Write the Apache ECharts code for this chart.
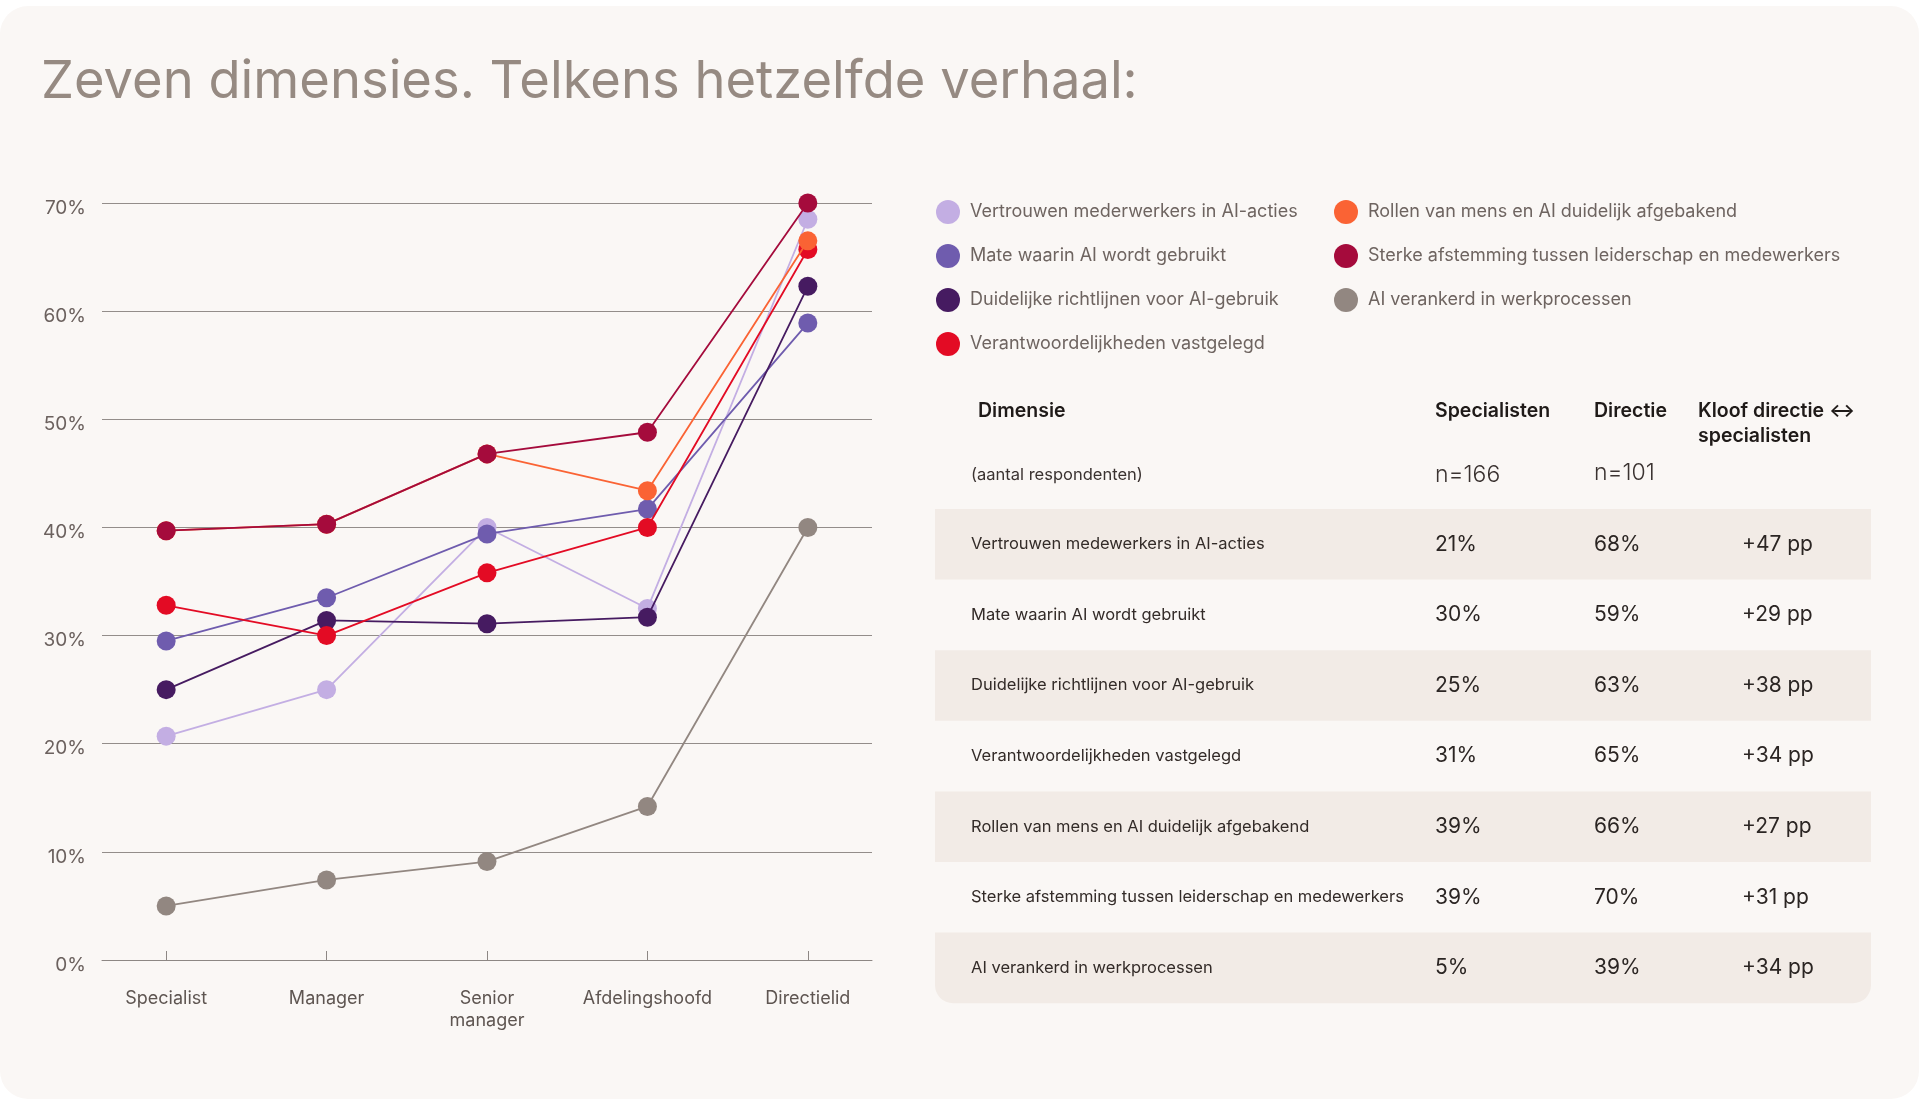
<!DOCTYPE html>
<html>
<head>
<meta charset="utf-8">
<script src="https://cdn.jsdelivr.net/npm/echarts@6/dist/echarts.min.js"></script>
<style>
html,body{margin:0;padding:0;background:#ffffff;}
#main{width:1920px;height:1106px;}
</style>
</head>
<body>
<div id="main"></div>
<script>
// categories on the x axis
var functies = ['Specialist', 'Manager', 'Senior\nmanager', 'Afdelingshoofd', 'Directielid'];
var yTicks = [0, 10, 20, 30, 40, 50, 60, 70];

// series (percentages per function level)
var namen = [
    'Vertrouwen mederwerkers in AI-acties',
    'Mate waarin AI wordt gebruikt',
    'Duidelijke richtlijnen voor AI-gebruik',
    'Verantwoordelijkheden vastgelegd',
    'Rollen van mens en AI duidelijk afgebakend',
    'Sterke afstemming tussen leiderschap en medewerkers',
    'AI verankerd in werkprocessen'
];
var kleuren = ['#c3aee3', '#6f5cae', '#461b61', '#e30b24', '#fa6334', '#a50b3c', '#928781'];
var vertrouwen = [20.7, 25.0, 40.0, 32.5, 68.5];
var mate = [29.5, 33.5, 39.4, 41.7, 58.9];
var richtlijnen = [25.0, 31.4, 31.1, 31.7, 62.3];
var verantwoordelijk = [32.8, 30.0, 35.8, 40.0, 65.7];
var rollen = [39.7, 40.3, 46.8, 43.4, 66.5];
var afstemming = [39.7, 40.3, 46.8, 48.8, 70.0];
var verankerd = [5.0, 7.4, 9.1, 14.2, 40.0];
var reeksen = [vertrouwen, mate, richtlijnen, verantwoordelijk, rollen, afstemming, verankerd];

// table on the right
var tabelKop = ['Dimensie', 'Specialisten', 'Directie', 'Kloof directie \u2194', 'specialisten'];
var respondenten = ['(aantal respondenten)', 'n=166', 'n=101'];
var dimensies = [
    'Vertrouwen medewerkers in AI-acties',
    'Mate waarin AI wordt gebruikt',
    'Duidelijke richtlijnen voor AI-gebruik',
    'Verantwoordelijkheden vastgelegd',
    'Rollen van mens en AI duidelijk afgebakend',
    'Sterke afstemming tussen leiderschap en medewerkers',
    'AI verankerd in werkprocessen'
];
var specialisten = ['21%', '30%', '25%', '31%', '39%', '39%', '5%'];
var directie = ['68%', '59%', '63%', '65%', '66%', '70%', '39%'];
var kloof = ['+47 pp', '+29 pp', '+38 pp', '+34 pp', '+27 pp', '+31 pp', '+34 pp'];

var FONT = 'Inter, "Noto Sans", sans-serif';

var dom = document.getElementById('main');
var myChart = echarts.init(dom);

var series = [];
for (var i = 0; i < reeksen.length; i++) {
    var pts = [];
    for (var j = 0; j < reeksen[i].length; j++) {
        pts.push([j, reeksen[i][j]]);
    }
    series.push({
        name: namen[i],
        type: 'line',
        data: pts,
        symbol: 'circle',
        symbolSize: 19,
        clip: false,
        color: kleuren[i],
        lineStyle: {width: 1.8, color: kleuren[i]},
        itemStyle: {color: kleuren[i]},
        z: 2 + i
    });
}

// table graphics
var graphic = [];
graphic.push({
    type: 'rect', z: -10, silent: true,
    shape: {x: 0, y: 6, width: 1919, height: 1093, r: 28},
    style: {fill: '#faf7f5'}
});
var rijTop = 509, rijH = 70.6;
for (var r = 0; r < dimensies.length; r++) {
    if (r % 2 == 0) {
        graphic.push({
            type: 'rect', z: -5, silent: true,
            shape: {x: 935, y: rijTop + r * rijH, width: 936, height: rijH,
                r: r == dimensies.length - 1 ? [0, 0, 18, 18] : 0},
            style: {fill: '#f2ebe6'}
        });
    }
    var cy = rijTop + r * rijH + rijH / 2;
    graphic.push({type: 'text', x: 971, y: cy, style: {text: dimensies[r], font: '16.5px ' + FONT, fill: '#332b28', verticalAlign: 'middle'}});
    graphic.push({type: 'text', x: 1435, y: cy, style: {text: specialisten[r], font: '21px ' + FONT, fill: '#2b2523', verticalAlign: 'middle'}});
    graphic.push({type: 'text', x: 1594, y: cy, style: {text: directie[r], font: '21px ' + FONT, fill: '#2b2523', verticalAlign: 'middle'}});
    graphic.push({type: 'text', x: 1742, y: cy, style: {text: kloof[r], font: '21px ' + FONT, fill: '#2b2523', verticalAlign: 'middle'}});
}
var kopX = [978, 1435, 1594, 1698, 1698];
var kopY = [411, 411, 411, 411, 436];
for (var k = 0; k < tabelKop.length; k++) {
    graphic.push({type: 'text', x: kopX[k], y: kopY[k], style: {text: tabelKop[k], font: '600 19.5px ' + FONT, fill: '#1f1a18', verticalAlign: 'middle'}});
}
graphic.push({type: 'text', x: 971, y: 475, style: {text: respondenten[0], font: '16.5px ' + FONT, fill: '#3a3230', verticalAlign: 'middle'}});
graphic.push({type: 'text', x: 1435, y: 475, style: {text: respondenten[1], font: '300 23px ' + FONT, fill: '#3a3230', verticalAlign: 'middle'}});
graphic.push({type: 'text', x: 1594, y: 473, style: {text: respondenten[2], font: '300 23px ' + FONT, fill: '#3a3230', verticalAlign: 'middle'}});

var legendStijl = {
    orient: 'vertical', icon: 'circle', itemWidth: 24, itemHeight: 24, itemGap: 20, padding: 0,
    textStyle: {fontFamily: FONT, fontSize: 18, color: '#6e6460', padding: [0, 0, 0, 5]}
};

var option = {
    backgroundColor: 'transparent',
    animation: false,
    textStyle: {fontFamily: FONT},
    title: {
        text: 'Zeven dimensies. Telkens hetzelfde verhaal:',
        left: 36, top: 51,
        textStyle: {fontFamily: FONT, fontSize: 52.5, fontWeight: 400, color: '#968a82'}
    },
    legend: [
        Object.assign({}, legendStijl, {data: namen.slice(0, 4), left: 936, top: 200}),
        Object.assign({}, legendStijl, {data: namen.slice(4), left: 1334, top: 200})
    ],
    grid: {left: 102, right: 1048, top: 203, bottom: 146},
    xAxis: {
        type: 'value', min: -0.4, max: 4.4,
        splitLine: {show: false},
        axisLine: {show: true, lineStyle: {color: '#8d8784', width: 1}},
        axisTick: {show: true, inside: true, length: 9, customValues: [0, 1, 2, 3, 4], lineStyle: {color: '#8d8784'}},
        axisLabel: {
            customValues: [0, 1, 2, 3, 4],
            formatter: function (v) { return functies[Math.round(v)]; },
            margin: 28, fontSize: 18, lineHeight: 22, color: '#5e5551', fontFamily: FONT
        }
    },
    yAxis: {
        type: 'value', min: yTicks[0], max: yTicks[yTicks.length - 1], interval: 10,
        axisLine: {show: false}, axisTick: {show: false},
        splitLine: {lineStyle: {color: '#938d8a', width: 1}},
        axisLabel: {
            formatter: '{p|{value}%}', margin: 16,
            rich: {p: {fontSize: 19, color: '#6b615e', fontFamily: FONT, padding: [10, 0, 0, 0]}}
        }
    },
    graphic: graphic,
    series: series
};
myChart.setOption(option, true);
</script>
</body>
</html>
